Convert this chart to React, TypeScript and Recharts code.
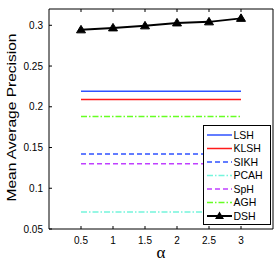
import { LineChart, Line, XAxis, YAxis, Legend } from 'recharts';

// values
const alphas = [0.5, 1, 1.5, 2, 2.5, 3];
const lsh = [0.219, 0.219, 0.219, 0.219, 0.219, 0.219];
const klsh = [0.209, 0.209, 0.209, 0.209, 0.209, 0.209];
const sikh = [0.142, 0.142, 0.142, 0.142, 0.142, 0.142];
const pcah = [0.071, 0.071, 0.071, 0.071, 0.071, 0.071];
const sph = [0.13, 0.13, 0.13, 0.13, 0.13, 0.13];
const agh = [0.188, 0.188, 0.188, 0.188, 0.188, 0.188];
const dsh = [0.2944, 0.2968, 0.2993, 0.3029, 0.3042, 0.3085];

const xTicks = [0.5, 1, 1.5, 2, 2.5, 3];
const yTicks = [0.05, 0.1, 0.15, 0.2, 0.25, 0.3];

const seriesNames = ['LSH', 'KLSH', 'SIKH', 'PCAH', 'SpH', 'AGH', 'DSH'];
const seriesValues = [lsh, klsh, sikh, pcah, sph, agh, dsh];

const data = alphas.map((a, i) => {
  const row: Record<string, number> = { alpha: a };
  seriesNames.forEach((n, k) => {
    row[n] = seriesValues[k][i];
  });
  return row;
});

const look: Record<string, { color: string; dash?: string; width: number }> = {
  LSH: { color: '#2f52ff', width: 1.5 },
  KLSH: { color: '#ff1a1a', width: 1.5 },
  SIKH: { color: '#2f52ff', dash: '5 3', width: 1.5 },
  PCAH: { color: '#74f5dc', dash: '6 2 1.5 2', width: 1.5 },
  SpH: { color: '#c040ff', dash: '5 3', width: 1.5 },
  AGH: { color: '#66ff22', dash: '6 2 1.5 2', width: 1.5 },
  DSH: { color: '#000', width: 2 },
};

const FONT = '"Liberation Sans", Arial, Helvetica, sans-serif';
const TICK = 3;
const X_GAP = 8;
const Y_GAP = 6;

function triangle(cx: number, cy: number) {
  return `${cx},${cy - 4.5} ${cx - 4.5},${cy + 3} ${cx + 4.5},${cy + 3}`;
}

const BottomTick = (p: any) => {
  const axisY = p.y - X_GAP;
  return (
    <g>
      <line x1={p.x} x2={p.x} y1={axisY} y2={axisY - TICK} stroke="#000" />
      <text x={p.x} y={p.y} dy="0.71em" textAnchor="middle" fontSize={10} fill="#000">
        {p.payload.value}
      </text>
    </g>
  );
};

const LeftTick = (p: any) => {
  const axisX = p.x + Y_GAP;
  return (
    <g>
      <line x1={axisX} x2={axisX + TICK} y1={p.y} y2={p.y} stroke="#000" />
      <text x={p.x} y={p.y} dy="0.36em" textAnchor="end" fontSize={10} fill="#000">
        {p.payload.value}
      </text>
    </g>
  );
};

const TopTick = (p: any) => (
  <line x1={p.x} x2={p.x} y1={p.y} y2={p.y + TICK} stroke="#000" />
);

const RightTick = (p: any) => (
  <line x1={p.x} x2={p.x - TICK} y1={p.y} y2={p.y} stroke="#000" />
);

const TriangleDot = (p: any) => (
  <polygon key={`t-${p.index}`} points={triangle(p.cx, p.cy)} fill="#000" stroke="#000" />
);

const YLabel = (p: any) => {
  const vb = p.viewBox;
  const cx = 15.5;
  const cy = vb.y + vb.height / 2 - 1.5;
  return (
    <text
      x={cx}
      y={cy}
      transform={`rotate(-90, ${cx}, ${cy})`}
      textAnchor="middle"
      fontSize={13}
      fill="#000"
      textLength={168}
      lengthAdjust="spacingAndGlyphs"
    >
      Mean Average Precision
    </text>
  );
};

function LegendBox() {
  return (
    <svg width={68} height={100} style={{ display: 'block', fontFamily: FONT }}>
      <rect x={0.5} y={0.5} width={67} height={99} fill="#fff" stroke="#000" />
      {seriesNames.map((n, i) => {
        const y = 10 + i * 13.5;
        const s = look[n];
        return (
          <g key={n}>
            <line x1={4} x2={29} y1={y} y2={y} stroke={s.color} strokeWidth={s.width} strokeDasharray={s.dash} />
            {n === 'DSH' && <polygon points={triangle(16.5, y)} fill="#000" />}
            <text x={30.5} y={y} dy="0.36em" fontSize={10.5} fill="#000">
              {n}
            </text>
          </g>
        );
      })}
    </svg>
  );
}

export default function App() {
  return (
    <div style={{ position: 'absolute', left: 0, top: 0, width: 278, height: 264, background: '#fff', fontFamily: FONT }}>
      <LineChart width={278} height={264} data={data} margin={{ top: 0, right: 0, bottom: 0, left: 0 }}>
        <XAxis
          xAxisId="bottom"
          dataKey="alpha"
          type="number"
          domain={[0, 3.5]}
          ticks={xTicks}
          height={35}
          tickSize={0}
          tickMargin={X_GAP}
          tick={BottomTick}
          axisLine={{ stroke: '#000' }}
          label={{ value: 'α', position: 'insideBottom', offset: 6, fontSize: 17, fill: '#000', fontFamily: '"Liberation Serif", "Times New Roman", serif' }}
        />
        <XAxis
          xAxisId="top"
          orientation="top"
          dataKey="alpha"
          type="number"
          domain={[0, 3.5]}
          ticks={xTicks}
          height={9}
          tickSize={0}
          tickMargin={0}
          tick={TopTick}
          axisLine={{ stroke: '#000' }}
        />
        <YAxis
          yAxisId="left"
          type="number"
          domain={[0.05, 0.32]}
          ticks={yTicks}
          width={49}
          tickSize={0}
          tickMargin={Y_GAP}
          tick={LeftTick}
          axisLine={{ stroke: '#000' }}
          label={YLabel}
        />
        <YAxis
          yAxisId="right"
          orientation="right"
          type="number"
          domain={[0.05, 0.32]}
          ticks={yTicks}
          width={5}
          tickSize={0}
          tickMargin={0}
          tick={RightTick}
          axisLine={{ stroke: '#000' }}
        />
        {seriesNames.map((n) => (
          <Line
            key={n}
            xAxisId="bottom"
            yAxisId="left"
            dataKey={n}
            stroke={look[n].color}
            strokeWidth={look[n].width}
            strokeDasharray={look[n].dash}
            dot={n === 'DSH' ? TriangleDot : false}
            activeDot={false}
            type="linear"
            isAnimationActive={false}
          />
        ))}
        <Legend
          layout="horizontal"
          verticalAlign="middle"
          align="center"
          wrapperStyle={{ left: 203, top: 125, width: 68, height: 100 }}
          content={() => <LegendBox />}
        />
      </LineChart>
    </div>
  );
}
